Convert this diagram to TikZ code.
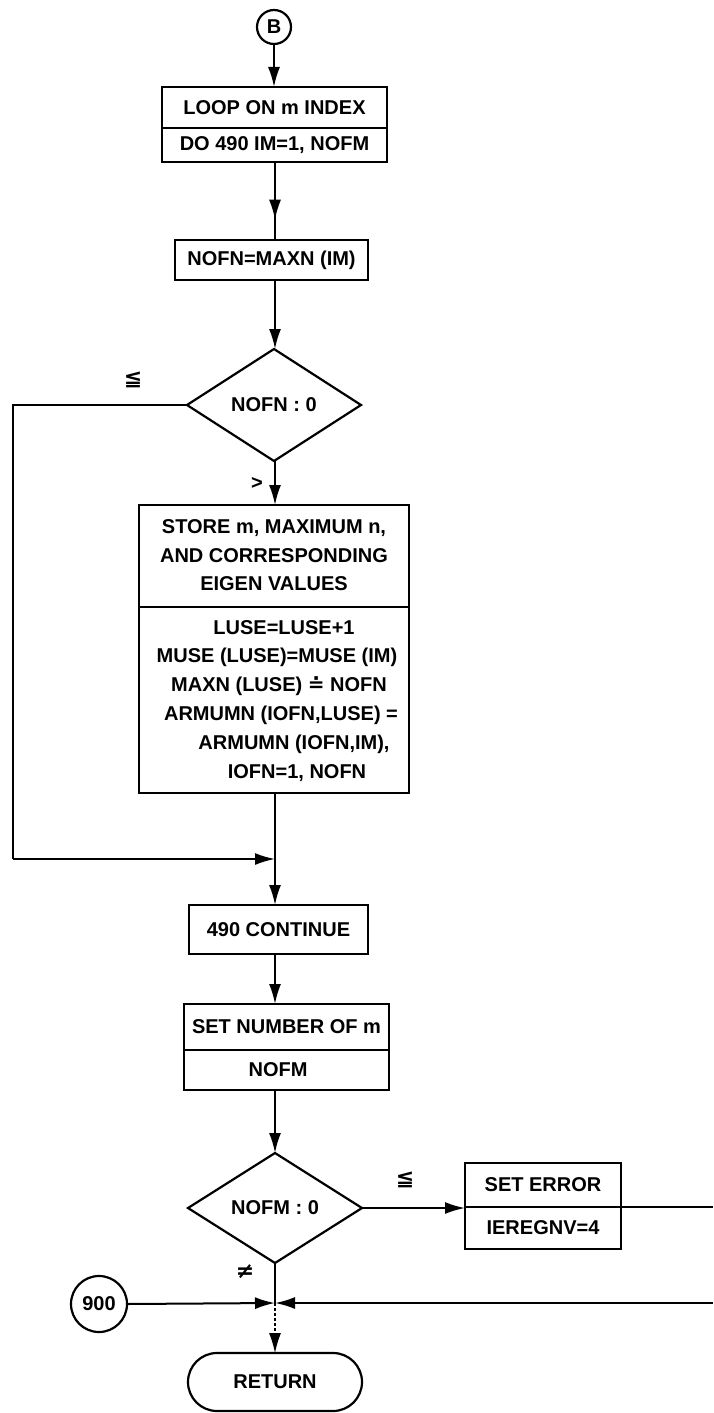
\documentclass[tikz,border=0pt]{standalone}
\usepackage{fontspec}
\setmainfont{Liberation Sans}
\newfontfamily\symf{DejaVu Sans}
\usetikzlibrary{arrows.meta,shapes.geometric,decorations.markings}
\begin{document}
\begin{tikzpicture}[x=1pt,y=-1pt,
  font=\fontsize{20}{29}\selectfont\bfseries,
  line width=2pt,
  arr/.style={-{Latex[length=20pt,width=12pt]}},
  midarr/.style={postaction={decorate},decoration={markings,mark=at position #1 with {\arrow{Latex[length=20pt,width=12pt]}}}},
  box/.style={draw,rectangle,inner sep=0pt,outer sep=0pt,line width=2.2pt},
  dia/.style={draw,diamond,inner sep=0pt,outer sep=0pt,minimum width=174pt,minimum height=112pt,line width=2.2pt},
  conn/.style={draw,circle,inner sep=0pt,outer sep=0pt,line width=2.2pt},
  lbl/.style={inner sep=0pt},
  sym/.style={inner sep=0pt,font=\symf\bfseries\fontsize{22}{22}\selectfont}
]
\useasboundingbox (0,0) rectangle (713,1413);
\coordinate (colx) at (275,0);

% connector B
\node[conn,minimum size=34pt] (B) at (274,27) {B};

% box 1
\node[box,minimum width=225pt,minimum height=75pt] (box1) at (274.5,124.5) {};
\draw[line width=2.2pt] (box1.west |- 0,128) -- (box1.east |- 0,128);
\node[lbl] (t1a) at (274.5,107.5) {LOOP ON m INDEX};
\node[lbl] (t1b) at (274.5,145) {DO 490 IM=1, NOFM};

% box 2
\node[box,minimum width=193pt,minimum height=40pt] (box2) at (271.5,260) {NOFN=MAXN (IM)};

% diamond 1
\node[dia] (d1) at (274,405) {NOFN : 0};

% box 3
\node[box,minimum width=270pt,minimum height=288pt] (box3) at (274,649) {};
\draw[line width=2.2pt] (box3.west |- 0,607) -- (box3.east |- 0,607);
\node[lbl] (s1) at (274,528) {STORE m, MAXIMUM n,};
\node[lbl] (s2) at (274,556) {AND CORRESPONDING};
\node[lbl] (s3) at (274,584) {EIGEN VALUES};
\node[lbl] (u1) at (284,628) {LUSE=LUSE+1};
\node[lbl] (u2) at (277,657) {MUSE (LUSE)=MUSE (IM)};
\node[lbl] (u3) at (279,686) {MAXN (LUSE) \smash{{\symf ≐}} NOFN};
\node[lbl] (u4) at (281,715) {ARMUMN (IOFN,LUSE) =};
\node[lbl] (u5) at (294,744) {ARMUMN (IOFN,IM),};
\node[lbl] (u6) at (297,773) {IOFN=1, NOFN};

% 490 continue
\node[box,minimum width=179pt,minimum height=49pt] (cont) at (278.5,929.5) {490 CONTINUE};

% set number of m
\node[box,minimum width=205pt,minimum height=86pt] (setn) at (286.5,1047) {};
\draw[line width=2.2pt] (setn.west |- 0,1050) -- (setn.east |- 0,1050);
\node[lbl] (n1) at (286.5,1027) {SET NUMBER OF m};
\node[lbl] (n2) at (278,1070) {NOFM};

% diamond 2
\node[dia,minimum height=110pt] (d2) at (275,1208) {NOFM : 0};

% error box
\node[box,minimum width=156pt,minimum height=86pt] (err) at (543,1206) {};
\draw[line width=2.2pt] (err.west |- 0,1207) -- (err.east |- 0,1207);
\node[lbl] (e1) at (543,1185) {SET ERROR};
\node[lbl] (e2) at (543,1228) {IEREGNV=4};

% 900 connector
\node[conn,minimum size=56pt] (c900) at (99,1304) {900};

% return
\node[draw,rectangle,rounded corners=29pt,minimum width=174pt,minimum height=58pt,line width=2.2pt,inner sep=0pt,outer sep=0pt] (ret) at (275,1382) {RETURN};

% free coordinates
\coordinate (loopL) at (13,0);
\coordinate (loopY) at (0,859);
\coordinate (join) at (275,859);
\coordinate (junc) at (275,1303);
\coordinate (redge1) at (713,1207);
\coordinate (redge2) at (713,1303);

% connectors
\draw[arr] (B.south) -- (box1.north -| B.south);
\draw[midarr=0.74] (box1.south -| colx) -- (box2.north -| colx);
\draw[arr] (box2.south -| colx) -- (d1.north -| colx);
\draw[arr] (d1.south -| colx) -- (box3.north -| colx);
\draw (d1.west) -- (d1.west -| loopL) -- (loopL |- loopY);
\draw[arr] (loopL |- loopY) -- (join);
\draw (box3.south -| colx) -- (join);
\draw[arr] (join) -- (cont.north -| colx);
\draw[arr] (cont.south -| colx) -- (setn.north -| colx);
\draw[arr] (setn.south -| colx) -- (d2.north -| colx);
\draw[arr] (d2.east) -- (err.west |- d2.east);
\draw (err.east |- redge1) -- (redge1);
\draw (d2.south) -- (junc);
\draw[arr] (c900.east) -- (junc);
\draw[arr] (redge2) -- (junc);
\draw[arr,line width=1.2pt,densely dashed] (junc) -- (ret.north);

% labels
\node[sym] (le1) at (133,380) {≦};
\node[lbl] (gt1) at (257,483) {>};
\node[sym] (le2) at (405,1180) {≦};
\node[sym] (ne2) at (245,1272) {≠};
\end{tikzpicture}
\end{document}
